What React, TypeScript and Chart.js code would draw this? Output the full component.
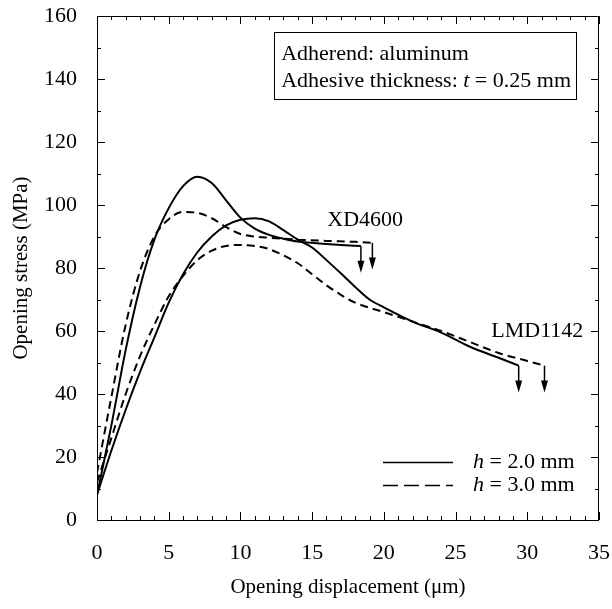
import React, { useEffect, useRef } from 'react';
import { Chart, registerables } from 'chart.js';

Chart.register(...registerables);

const FONT = '"Liberation Serif", "Times New Roman", serif';
const FS = 22;

// XD4600, h = 2.0 mm (solid)
const xd2X = [0, 1, 2, 3, 4, 5, 6, 7, 8, 9, 10, 11, 12, 13, 14, 15, 16, 17, 18.4];
const xd2Y = [8, 30, 54, 74, 89, 99, 106, 109, 107, 101.5, 96, 92.5, 90.5, 89.3, 88.4, 88, 87.6, 87.3, 87];
// XD4600, h = 3.0 mm (dashed)
const xd3X = [0, 1, 2, 3, 4, 5, 6, 7, 8, 9, 10, 11, 12, 14, 16, 18, 19.2];
const xd3Y = [15, 39, 62, 79, 90, 95.5, 97.8, 97.5, 95.8, 93, 90.8, 90, 89.6, 89, 88.6, 88.3, 88];
// LMD1142, h = 2.0 mm (solid)
const lmd2X = [0, 1, 2, 3, 4, 5, 6, 7, 8, 9, 10, 11, 12, 13, 14, 15, 16, 17, 18, 19, 20, 22, 24, 26, 28, 29.4];
const lmd2Y = [8, 22, 35, 47, 58, 69, 78, 85, 90, 93.5, 95.3, 95.8, 94.8, 92, 89, 86.5, 82.5, 78.3, 74, 70, 67.5, 63, 59.5, 55, 51.5, 49];
// LMD1142, h = 3.0 mm (dashed)
const lmd3X = [0, 1, 2, 3, 4, 5, 6, 7, 8, 9, 10, 11, 12, 13, 14, 15, 16, 17, 18, 20, 22, 24, 26, 28, 30, 31.2];
const lmd3Y = [12, 26, 40, 52, 62, 71, 77.5, 82.5, 85.5, 87, 87.3, 87, 86, 84, 81.5, 78, 74.5, 71.5, 69, 66, 63, 60, 56.5, 53, 50.5, 49];

// failure arrows
const arrowX = [18.4, 19.2, 29.4, 31.2];
const arrowTop = [87, 88, 49, 49];
const arrowBottom = [78.5, 79.5, 40.5, 40.5];

// axis ticks
const xMajor = [0, 5, 10, 15, 20, 25, 30, 35];
const xMinor = [0, 1, 2, 3, 4, 5, 6, 7, 8, 9, 10, 11, 12, 13, 14, 15, 16, 17, 18, 19, 20, 21, 22, 23, 24, 25, 26, 27, 28, 29, 30, 31, 32, 33, 34, 35];
const yMajor = [0, 20, 40, 60, 80, 100, 120, 140, 160];
const yMinor = [0, 10, 20, 30, 40, 50, 60, 70, 80, 90, 100, 110, 120, 130, 140, 150, 160];

// labels
const seriesLabels = ['XD4600', 'LMD1142'];
const labelPos = [
  { x: 18.7, y: 95.2 },
  { x: 30.7, y: 59.8 },
];
const legendItems = [
  { h: '2.0', dash: [] as number[] },
  { h: '3.0', dash: [15, 6] },
];

const toPts = (xs: number[], ys: number[]) => xs.map((x, i) => ({ x, y: ys[i] }));

const decorPlugin = {
  id: 'decor',
  afterDatasetsDraw(chart: any) {
    const { ctx, chartArea: a, scales } = chart;
    const xs = scales.x;
    const ys = scales.y;
    ctx.save();
    ctx.strokeStyle = '#000';
    ctx.fillStyle = '#000';
    ctx.lineWidth = 1;
    // frame
    ctx.strokeRect(a.left + 0.5, a.top + 0.5, a.right - a.left - 1, a.bottom - a.top);
    // ticks
    ctx.beginPath();
    xMinor.forEach((v) => {
      const p = Math.round(xs.getPixelForValue(v)) + 0.5;
      const len = xMajor.includes(v) ? 8 : 4;
      ctx.moveTo(p, a.bottom);
      ctx.lineTo(p, a.bottom - len);
      ctx.moveTo(p, a.top);
      ctx.lineTo(p, a.top + len);
    });
    yMinor.forEach((v) => {
      const p = Math.round(ys.getPixelForValue(v)) + 0.5;
      const len = yMajor.includes(v) ? 8 : 4;
      ctx.moveTo(a.left, p);
      ctx.lineTo(a.left + len, p);
      ctx.moveTo(a.right, p);
      ctx.lineTo(a.right - len, p);
    });
    ctx.stroke();

    // arrows
    ctx.lineWidth = 1.5;
    arrowX.forEach((v, i) => {
      const px = xs.getPixelForValue(v);
      const t = ys.getPixelForValue(arrowTop[i]);
      const b = ys.getPixelForValue(arrowBottom[i]);
      ctx.beginPath();
      ctx.moveTo(px, t);
      ctx.lineTo(px, b - 8);
      ctx.stroke();
      ctx.beginPath();
      ctx.moveTo(px, b);
      ctx.lineTo(px - 3.5, b - 12);
      ctx.lineTo(px + 3.5, b - 12);
      ctx.closePath();
      ctx.fill();
    });

    // series labels
    ctx.font = `${FS}px ${FONT}`;
    ctx.textAlign = 'center';
    ctx.textBaseline = 'middle';
    seriesLabels.forEach((s, i) => {
      ctx.fillText(s, xs.getPixelForValue(labelPos[i].x), ys.getPixelForValue(labelPos[i].y));
    });

    // info box
    const br = 576, bt = 32, bb = 99;
    ctx.font = `${FS}px ${FONT}`;
    const w1 = ctx.measureText('Adhesive thickness: ').width;
    ctx.font = `italic ${FS}px ${FONT}`;
    const w2 = ctx.measureText('t').width;
    ctx.font = `${FS}px ${FONT}`;
    const w3 = ctx.measureText(' = 0.25 mm').width;
    const textLeft = br - 5 - (w1 + w2 + w3);
    const bl = textLeft - 7;
    ctx.lineWidth = 1;
    ctx.strokeRect(Math.round(bl) + 0.5, bt + 0.5, br - Math.round(bl), bb - bt);
    ctx.textAlign = 'left';
    ctx.fillText('Adherend: aluminum', textLeft, 54);
    let x = textLeft;
    const seg = (txt: string, italic: boolean) => {
      ctx.font = `${italic ? 'italic ' : ''}${FS}px ${FONT}`;
      ctx.fillText(txt, x, 81);
      x += ctx.measureText(txt).width;
    };
    seg('Adhesive thickness: ', false);
    seg('t', true);
    seg(' = 0.25 mm', false);

    // legend
    legendItems.forEach((it, i) => {
      const y = 462 + i * 23;
      ctx.lineWidth = 1.5;
      ctx.setLineDash(it.dash);
      ctx.beginPath();
      ctx.moveTo(383, y + 0.5);
      ctx.lineTo(453, y + 0.5);
      ctx.stroke();
      ctx.setLineDash([]);
      let lx = 473;
      ctx.font = `italic ${FS}px ${FONT}`;
      ctx.fillText('h', lx, y);
      lx += ctx.measureText('h').width;
      ctx.font = `${FS}px ${FONT}`;
      ctx.fillText(` = ${it.h} mm`, lx, y);
    });
    ctx.restore();
  },
};

export default function App() {
  const ref = useRef<HTMLCanvasElement | null>(null);
  useEffect(() => {
    if (!ref.current) return;
    const solid = { borderColor: '#000', borderWidth: 2, pointRadius: 0, fill: false, cubicInterpolationMode: 'monotone' as const };
    const dashed = { ...solid, borderDash: [8, 5] };
    const chart = new Chart(ref.current, {
      type: 'line',
      data: {
        datasets: [
          { label: 'XD4600 h = 2.0 mm', data: toPts(xd2X, xd2Y), ...solid },
          { label: 'XD4600 h = 3.0 mm', data: toPts(xd3X, xd3Y), ...dashed },
          { label: 'LMD1142 h = 2.0 mm', data: toPts(lmd2X, lmd2Y), ...solid },
          { label: 'LMD1142 h = 3.0 mm', data: toPts(lmd3X, lmd3Y), ...dashed },
        ],
      },
      options: {
        animation: false,
        responsive: false,
        maintainAspectRatio: false,
        layout: { padding: { left: 0, top: 16, right: 13, bottom: 0 } },
        plugins: { legend: { display: false }, tooltip: { enabled: false } },
        scales: {
          x: {
            type: 'linear',
            min: 0,
            max: 35,
            grid: { display: false, drawTicks: false },
            border: { display: false },
            ticks: { stepSize: 5, color: '#000', padding: 20, font: { family: FONT, size: FS }, maxRotation: 0 },
            title: { display: true, text: 'Opening displacement (μm)', color: '#000', font: { family: FONT, size: 21 }, padding: { top: 0, bottom: 9 } },
            afterFit: (s: any) => { s.height = 89; s.paddingLeft = 0; s.paddingRight = 0; },
          },
          y: {
            type: 'linear',
            min: 0,
            max: 160,
            grid: { display: false, drawTicks: false },
            border: { display: false },
            ticks: { stepSize: 20, color: '#000', padding: 20, font: { family: FONT, size: FS } },
            title: { display: true, text: 'Opening stress (MPa)', color: '#000', font: { family: FONT, size: 21 }, padding: { top: 9, bottom: 0 } },
            afterFit: (s: any) => { s.width = 97; s.paddingTop = 0; s.paddingBottom = 0; },
          },
        },
      },
      plugins: [decorPlugin],
    });
    return () => chart.destroy();
  }, []);
  return (
    <div style={{ position: 'absolute', left: 0, top: 0, width: 612, height: 609, background: '#fff' }}>
      <canvas ref={ref} width={612} height={609} style={{ width: 612, height: 609 }} />
    </div>
  );
}
